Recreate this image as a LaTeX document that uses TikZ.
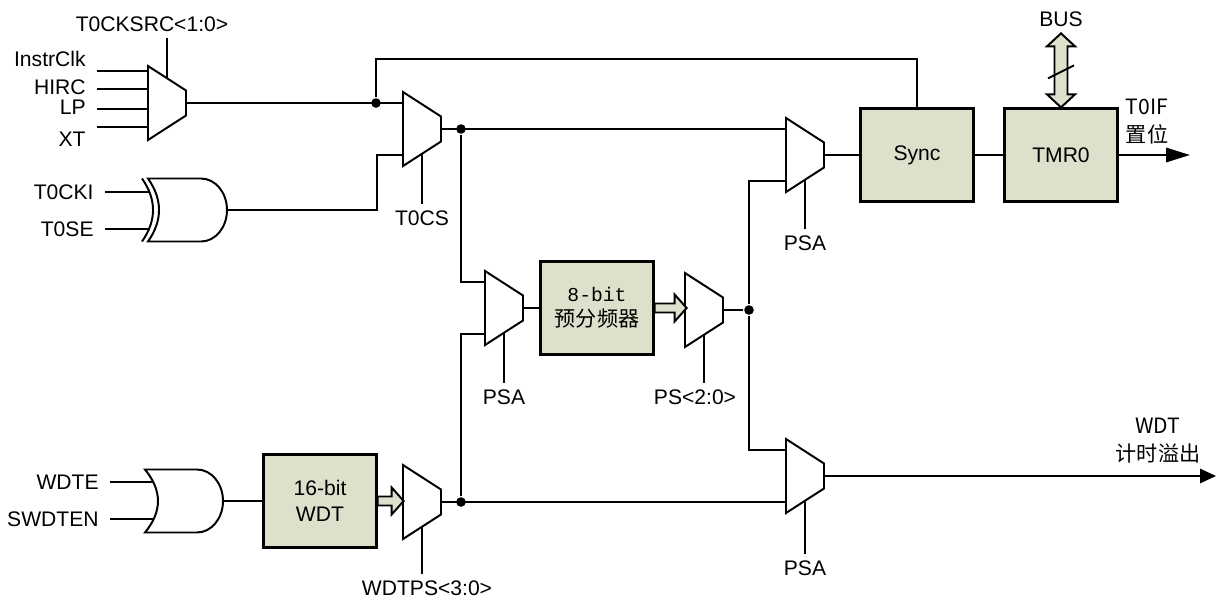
\documentclass[tikz,border=0pt]{standalone}
\usepackage{fontspec}
\setmainfont{Liberation Sans}
\newfontfamily\cjk{Noto Sans CJK SC}
\newfontfamily\mono{Liberation Mono}
\usetikzlibrary{calc,arrows.meta}

\definecolor{boxfill}{RGB}{221,225,204}

\tikzset{
  lbl/.style={font=\fontsize{15}{18}\selectfont, inner sep=1pt},
  inlbl/.style={lbl, anchor=east, inner xsep=0.26cm},
  sellbl/.style={lbl, inner ysep=0.15cm},
  cjklbl/.style={font={\cjk\fontsize{15}{20}\selectfont}, align=center, inner sep=1pt},
  blk/.style={draw, fill=boxfill, line width=1.6pt, minimum width=2.825cm, minimum height=2.325cm,
    align=center, font=\fontsize{15}{18.5}\selectfont},
  dot/.style={circle, fill, inner sep=0pt, minimum size=0.24cm},
  fat/.style={fill=boxfill, line width=1.4pt, line join=miter},
  mux/.pic={
    \draw (0,-37) -- (38,-12.5) -- (38,12.5) -- (0,37) -- cycle;
    \coordinate (-in1) at (0,-26);
    \coordinate (-in2) at (0,26);
    \coordinate (-in) at (0,0);
    \coordinate (-out) at (38,0);
    \coordinate (-top) at (19,-24.75);
    \coordinate (-sel) at (19,24.75);
  },
  orgate/.pic={
    \draw (-39,-31.5) -- (13,-31.5) .. controls (27.4,-31.5) and (39,-17.4) .. (39,0)
      .. controls (39,17.4) and (27.4,31.5) .. (13,31.5) -- (-39,31.5)
      .. controls (-21.7,10.5) and (-21.7,-10.5) .. (-39,-31.5) -- cycle;
    \coordinate (-in1) at (-30.7,-18.5);
    \coordinate (-in2) at (-30.7,18.5);
    \coordinate (-out) at (39,0);
  },
  xorgate/.pic={
    \draw (-40,-31.5) -- (13,-31.5) .. controls (27.4,-31.5) and (39,-17.4) .. (39,0)
      .. controls (39,17.4) and (27.4,31.5) .. (13,31.5) -- (-40,31.5)
      .. controls (-25.3,10.5) and (-25.3,-10.5) .. (-40,-31.5) -- cycle;
    \draw (-46,-31.5) .. controls (-31.3,-10.5) and (-31.3,10.5) .. (-46,31.5);
    \coordinate (-in1) at (-39,-18.5);
    \coordinate (-in2) at (-39,18.5);
    \coordinate (-out) at (39,0);
  }
}

\begin{document}
\begin{tikzpicture}[x=0.025cm, y=-0.025cm, line width=1.4pt]
   \useasboundingbox (0,0) rectangle (1216,599);

   % multiplexers
   \pic (m1) at (148,103) {mux};
   \pic (m2) at (403,129) {mux};
   \pic (m3) at (786,155) {mux};
   \pic (m4) at (485,308) {mux};
   \pic (m5) at (685,310) {mux};
   \pic (m6) at (786,476) {mux};
   \pic (m7) at (403,502) {mux};

   % blocks
   \node [blk] (sync) at (917,155) {Sync};
   \node [blk] (tmr) at (1061,155) {TMR0};
   \node [blk, font={\cjk\fontsize{15}{18}\selectfont}] (pre) at (597,308) {{\mono\fontsize{14}{18}\selectfont 8-bit}\\预分频器};
   \node [blk] (wdt) at (320,501) {16-bit\\WDT};

   % gates
   \pic (xg) at (188,210) {xorgate};
   \pic (og) at (184,501) {orgate};

   % clock source inputs
   \node [inlbl] (instr) at (97,59) {InstrClk};
   \node [inlbl] (hirc) at (97,87) {HIRC};
   \node [inlbl] (lp) at (97,107) {LP};
   \node [inlbl] (xt) at (97,139) {XT};
   \coordinate (s1) at (97,71);
   \coordinate (s2) at (97,89);
   \coordinate (s3) at (97,109);
   \coordinate (s4) at (97,127);
   \draw (s1) -- (s1 -| m1-in);
   \draw (s2) -- (s2 -| m1-in);
   \draw (s3) -- (s3 -| m1-in);
   \draw (s4) -- (s4 -| m1-in);

   \node [inlbl] (t0cki) at (105,192) {T0CKI};
   \node [inlbl] (t0se) at (105,229) {T0SE};
   \draw (t0cki.east) -- (t0cki.east -| xg-in1);
   \draw (t0se.east) -- (t0se.east -| xg-in2);

   \node [inlbl] (wdte) at (110,482) {WDTE};
   \node [inlbl] (swdten) at (110,519) {SWDTEN};
   \draw (wdte.east) -- (wdte.east -| og-in1);
   \draw (swdten.east) -- (swdten.east -| og-in2);

   % select signals
   \node [sellbl] (t0cksrc) at (152,24) {T0CKSRC<1:0>};
   \node [sellbl] (t0cs) at (422,218) {T0CS};
   \node [sellbl] (psa1) at (504,397) {PSA};
   \node [sellbl] (ps) at (695,397) {PS<2:0>};
   \node [sellbl] (psa2) at (805,243) {PSA};
   \node [sellbl] (psa3) at (805,568) {PSA};
   \node [sellbl] (wdtps) at (427,588) {WDTPS<3:0>};
   \draw (m1-top) -- (m1-top |- t0cksrc.south);
   \draw (m2-sel) -- (m2-sel |- t0cs.north);
   \draw (m4-sel) -- (m4-sel |- psa1.north);
   \draw (m5-sel) -- (m5-sel |- ps.north);
   \draw (m3-sel) -- (m3-sel |- psa2.north);
   \draw (m6-sel) -- (m6-sel |- psa3.north);
   \draw (m7-sel) -- (m7-sel |- wdtps.north);

   % wiring
   \draw (m1-out) -- (m2-in1);
   \node [dot] (j1) at ($(m2-in1)+(-27,0)$) {};
   \draw (j1) |- ($(sync.north)+(0,-48)$) -- (sync.north);
   \draw (xg-out) -| ($(m2-in2)+(-26,0)$) -- (m2-in2);
   \draw (m2-out) -- (m3-in1);
   \node [dot] (j2) at ($(m2-out)+(20,0)$) {};
   \draw (j2) |- (m4-in1);
   \draw (og-out) -- (og-out -| wdt.west);
   \draw (m7-out) -- (m6-in2);
   \node [dot] (j4) at ($(m7-out)+(20,0)$) {};
   \draw (j4) |- (m4-in2);
   \draw (m4-out) -- (pre.west);
   \node [dot] (j3) at ($(m5-out)+(26,0)$) {};
   \draw (m5-out) -- (j3);
   \draw (m3-in2) -| (j3) |- (m6-in1);
   \draw (m3-out) -- (sync.west);
   \draw (sync.east) -- (tmr.west);

   % outputs
   \coordinate (t0ifend) at (1190,155);
   \coordinate (wdtend) at (1216,476);
   \draw [-{Triangle[length=0.6cm, width=0.36cm]}] (tmr.east) -- (t0ifend);
   \draw [-{Triangle[length=0.4cm, width=0.36cm]}] (m6-out) -- (wdtend);
   \node [cjklbl] (t0if) at (1147,122) {T0IF\\置位};
   \node [cjklbl] (wdtov) at (1158,441) {WDT\\计时溢出};

   % wide arrows
   \filldraw [fat] (pre.east) ++(0,-4.5) -- ++(20,0) -- ++(0,-9) -- ++(12,13.5) -- ++(-12,13.5) -- ++(0,-9) -- ++(-20,0) -- cycle;
   \filldraw [fat] (wdt.east) ++(0,-4.5) -- ++(14,0) -- ++(0,-9) -- ++(12,13.5) -- ++(-12,13.5) -- ++(0,-9) -- ++(-14,0) -- cycle;

   % bus
   \node [lbl] (bus) at (1061,19) {BUS};
   \filldraw [fat] (tmr.north) -- ++(-14,-13) -- ++(7.5,0) -- ++(0,-48) -- ++(-7.5,0) -- ++(14,-13)
      -- ++(14,13) -- ++(-7.5,0) -- ++(0,48) -- ++(7.5,0) -- cycle;
   \draw ($(tmr.north)+(-13,-29)$) -- ++(26,-13);
\end{tikzpicture}
\end{document}
